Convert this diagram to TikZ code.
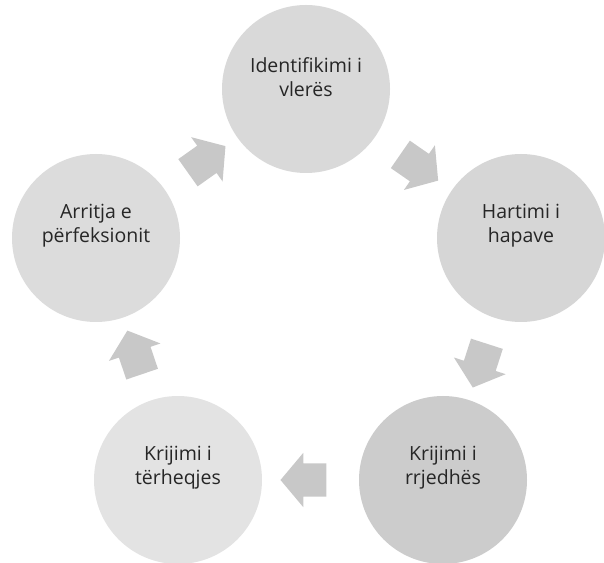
\documentclass[tikz,border=0pt]{standalone}
\usepackage{fontspec}
\setmainfont{Open Sans}
\usetikzlibrary{shapes.arrows}
\definecolor{stepA}{HTML}{D9D9D9}
\definecolor{stepB}{HTML}{D6D6D6}
\definecolor{stepC}{HTML}{CCCCCC}
\definecolor{stepD}{HTML}{E3E3E3}
\definecolor{stepE}{HTML}{DCDCDC}
\definecolor{blkgray}{HTML}{C8C8C8}
\definecolor{txtgray}{HTML}{262626}
\begin{document}
\begin{tikzpicture}[x=1pt,y=1pt,
    phase/.style={circle, minimum size=168pt, inner sep=0pt},
    lbl/.style={align=center, yshift=12pt, text=txtgray,
      font=\fontsize{19.5}{24}\selectfont},
    blk/.style={single arrow, fill=blkgray, inner xsep=0pt, inner ysep=16.5pt,
      minimum height=46pt, minimum width=54pt, single arrow head extend=10.5pt,
      single arrow tip angle=100, sloped, allow upside down}]
    \useasboundingbox (0,0) rectangle (604,562);
    \node[phase, fill=stepA, label={[lbl]center:Identifikimi i\\vlerës}] (vlera) at (306,473) {};
    \node[phase, fill=stepB, label={[lbl]center:Hartimi i\\hapave}] (hapat) at (521,324) {};
    \node[phase, fill=stepC, label={[lbl]center:Krijimi i\\rrjedhës}] (rrjedha) at (443,82) {};
    \node[phase, fill=stepD, label={[lbl]center:Krijimi i\\tërheqjes}] (terheqja) at (178,82) {};
    \node[phase, fill=stepE, label={[lbl]center:Arritja e\\përfeksionit}] (perfeksioni) at (96,324) {};
    \path (vlera) -- node[blk] {} (hapat);
    \path (hapat) -- node[blk] {} (rrjedha);
    \path (rrjedha) -- node[blk] {} (terheqja);
    \path (terheqja) -- node[blk] {} (perfeksioni);
    \path (perfeksioni) -- node[blk] {} (vlera);
\end{tikzpicture}
\end{document}
